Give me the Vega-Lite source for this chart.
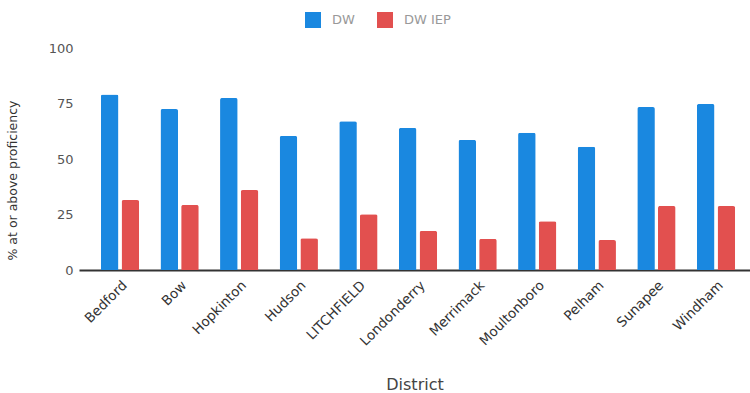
{
  "$schema": "https://vega.github.io/schema/vega-lite/v6.json",
  "autosize": {"type": "none"},
  "padding": {"left": 79, "top": 48, "right": 0, "bottom": 123},
  "width": 671,
  "height": 222,
  "background": "white",
  "config": {
    "view": {"stroke": null},
    "font": "DejaVu Sans"
  },
  "data": {
    "values": [
      {"district": "Bedford", "series": "DW", "value": 79},
      {"district": "Bedford", "series": "DW IEP", "value": 31.5},
      {"district": "Bow", "series": "DW", "value": 72.5},
      {"district": "Bow", "series": "DW IEP", "value": 29.3},
      {"district": "Hopkinton", "series": "DW", "value": 77.5},
      {"district": "Hopkinton", "series": "DW IEP", "value": 36},
      {"district": "Hudson", "series": "DW", "value": 60.4},
      {"district": "Hudson", "series": "DW IEP", "value": 14.3},
      {"district": "LITCHFIELD", "series": "DW", "value": 67},
      {"district": "LITCHFIELD", "series": "DW IEP", "value": 25.1},
      {"district": "Londonderry", "series": "DW", "value": 64},
      {"district": "Londonderry", "series": "DW IEP", "value": 17.6},
      {"district": "Merrimack", "series": "DW", "value": 58.6},
      {"district": "Merrimack", "series": "DW IEP", "value": 14},
      {"district": "Moultonboro", "series": "DW", "value": 61.8},
      {"district": "Moultonboro", "series": "DW IEP", "value": 22},
      {"district": "Pelham", "series": "DW", "value": 55.5},
      {"district": "Pelham", "series": "DW IEP", "value": 13.5},
      {"district": "Sunapee", "series": "DW", "value": 73.4},
      {"district": "Sunapee", "series": "DW IEP", "value": 28.8},
      {"district": "Windham", "series": "DW", "value": 74.8},
      {"district": "Windham", "series": "DW IEP", "value": 28.8}
    ]
  },
  "mark": {"type": "bar", "cornerRadiusTopLeft": 2, "cornerRadiusTopRight": 2},
  "encoding": {
    "x": {
      "field": "district",
      "type": "nominal",
      "sort": null,
      "scale": {"paddingInner": 0.33, "paddingOuter": 0.294, "align": 0.6},
      "axis": {
        "title": "District",
        "titleFontSize": 16,
        "titleFontWeight": "normal",
        "titleColor": "#444444",
        "titleBaseline": "middle",
        "titleY": 114,
        "labelAngle": -45,
        "labelFontSize": 13.5,
        "labelColor": "#333333",
        "labelPadding": 8,
        "ticks": false,
        "domainColor": "#333333",
        "domainWidth": 2
      }
    },
    "xOffset": {
      "field": "series",
      "type": "nominal",
      "sort": ["DW", "DW IEP"],
      "scale": {"paddingInner": 0.15, "paddingOuter": 0.04}
    },
    "y": {
      "field": "value",
      "type": "quantitative",
      "scale": {"domain": [0, 100]},
      "axis": {
        "title": "% at or above proficiency",
        "titleFontSize": 12.5,
        "titleFontWeight": "normal",
        "titleColor": "#333333",
        "titleX": -60,
        "titleY": 132,
        "values": [0, 25, 50, 75, 100],
        "labelFontSize": 13,
        "labelColor": "#555555",
        "labelPadding": 6,
        "ticks": false,
        "domain": false,
        "grid": false
      }
    },
    "color": {
      "field": "series",
      "type": "nominal",
      "sort": ["DW", "DW IEP"],
      "scale": {"domain": ["DW", "DW IEP"], "range": ["#1a88e0", "#e2504f"]},
      "legend": {
        "title": null,
        "orient": "none",
        "legendX": 226,
        "legendY": -36,
        "direction": "horizontal",
        "symbolType": "square",
        "symbolSize": 256,
        "symbolStrokeWidth": 0,
        "labelFontSize": 13,
        "labelColor": "#999999",
        "labelOffset": 11,
        "columnPadding": 22
      }
    }
  }
}
